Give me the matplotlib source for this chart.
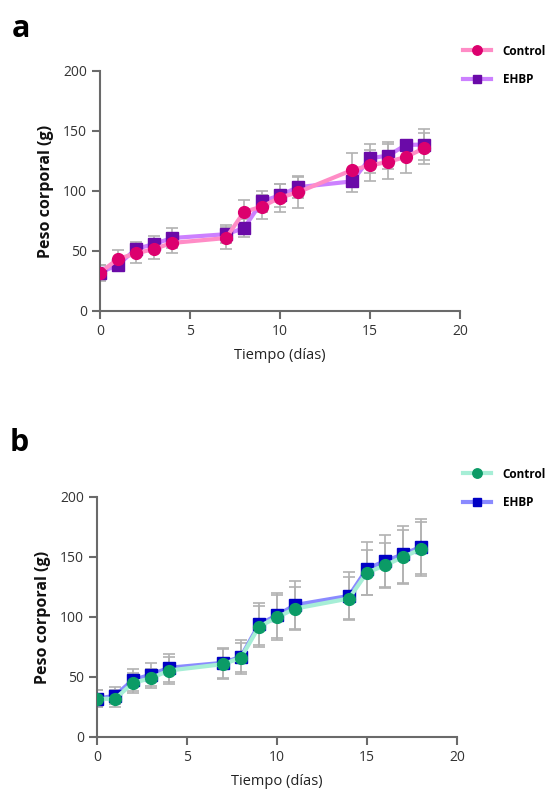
import numpy as np
import matplotlib.pyplot as plt

plt.rcParams['font.family'] = ['Open Sans', 'DejaVu Sans']

dias = [0, 1, 2, 3, 4, 7, 8, 9, 10, 11, 14, 15, 16, 17, 18]

# panel a
ctrl_a = [32, 43.4, 48, 51.7, 56.7, 60.8, 82.6, 87, 94.5, 99, 117.4, 121.3, 124.3, 128.4, 135.6]
ctrl_a_sd = [6.6, 7.7, 8, 8, 8.6, 9.4, 10, 10, 11.7, 13, 14, 13, 14.6, 13.6, 13]
ehbp_a = [32, 38.4, 51.7, 55.8, 60.8, 64, 69, 91.4, 96.4, 103.2, 108, 127.3, 129.5, 138.4, 138.7]
ehbp_a_sd = [6, 5, 6, 7, 8, 7.5, 7.5, 8.6, 9.7, 9, 9, 12, 11, 4.4, 13]

# panel b
ctrl_b = [31.8, 31.8, 45.1, 49, 55.4, 60.7, 66, 92, 99.7, 107, 115.4, 137, 143, 150, 156.6]
ctrl_b_sd = [7, 7, 8.4, 8, 11, 12.3, 12, 17, 18.6, 18, 18, 18.8, 19, 22.5, 22.4]
ehbp_b = [31.8, 34.5, 47.6, 52, 57.7, 61.8, 66.9, 93.9, 101.4, 110, 117.6, 140.2, 146.6, 152.2, 158.5]
ehbp_b_sd = [7, 7, 9.2, 9.7, 11.7, 12.5, 14, 17.5, 19, 20.4, 19.5, 22, 22, 23.8, 23]

fig = plt.figure(figsize=(5.46, 7.95), dpi=100)
ax_a = fig.add_axes([100/546, 1 - 311/795, 360/546, 240/795])
ax_b = fig.add_axes([97/546, 1 - 737/795, 360/546, 240/795])


def panel(ax, c, c_sd, e, e_sd, c_line, c_mark, e_line, e_mark, leg_y):
    ax.errorbar(dias, c, yerr=c_sd, fmt='none', ecolor='#b2b2b2', elinewidth=1.2,
                capsize=4, capthick=1.2, zorder=1)
    ax.errorbar(dias, e, yerr=e_sd, fmt='none', ecolor='#b2b2b2', elinewidth=1.2,
                capsize=4, capthick=1.2, zorder=1)
    le, = ax.plot(dias, e, color=e_line, lw=3, marker='s', ms=8,
                  mfc=e_mark, mec=e_mark, zorder=3, label='EHBP')
    lc, = ax.plot(dias, c, color=c_line, lw=3, marker='o', ms=8.5,
                  mfc=c_mark, mec=c_mark, zorder=4, label='Control')
    ax.set_xlim(0, 20)
    ax.set_ylim(0, 200)
    ax.set_xticks([0, 5, 10, 15, 20])
    ax.set_yticks([0, 50, 100, 150, 200])
    for s in ['top', 'right']:
        ax.spines[s].set_visible(False)
    for s in ['left', 'bottom']:
        ax.spines[s].set_color('#6a6a6a')
        ax.spines[s].set_linewidth(1.5)
    ax.tick_params(colors='#6a6a6a', width=1.5, length=6, labelsize=10,
                   labelcolor='#333333')
    ax.set_xlabel('Tiempo (días)', fontsize=10.5, color='#222222', labelpad=6)
    ax.set_ylabel('Peso corporal (g)', fontsize=11.5, fontweight='bold',
                  color='#111111', labelpad=6)
    for sp in [ax.spines['left'], ax.spines['bottom']]:
        sp.set_clip_on(False)
    fig.legend(handles=[lc, le], loc='upper left',
               bbox_to_anchor=(452/546, 1 - leg_y/795), frameon=False,
               prop={'weight': 'bold', 'size': 8.5}, markerscale=0.8,
               handlelength=2.4, labelspacing=1.3, handletextpad=1.0)


panel(ax_a, ctrl_a, ctrl_a_sd, ehbp_a, ehbp_a_sd,
      '#ff8cc6', '#dc006e', '#cc80ff', '#6a0aa8', 34)
panel(ax_b, ctrl_b, ctrl_b_sd, ehbp_b, ehbp_b_sd,
      '#a6eed6', '#0b9b66', '#8a8aff', '#0000c4', 457)

fig.text(12/546, 1 - 14/795, 'a', fontsize=22, fontweight='bold', va='top')
fig.text(10/546, 1 - 428/795, 'b', fontsize=22, fontweight='bold', va='top')

fig.savefig('out.png', dpi=100)
